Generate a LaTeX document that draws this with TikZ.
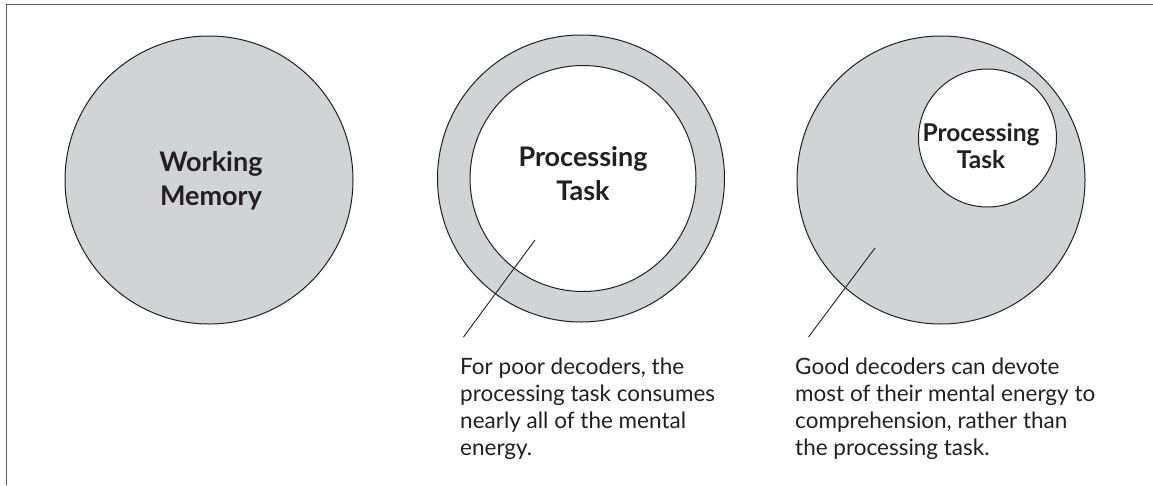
\documentclass[tikz,border=0pt]{standalone}
\usepackage{fontspec}
\setmainfont{Lato}
\definecolor{memgray}{HTML}{D1D3D4}
\definecolor{ink}{HTML}{231F20}
\definecolor{framegray}{HTML}{5A5B5D}
\begin{document}
\begin{tikzpicture}[x=1pt,y=-1pt,
  disc/.style={circle, draw=ink, line width=1pt, fill=memgray, inner sep=0pt},
  hole/.style={circle, draw=ink, line width=1pt, fill=white, inner sep=0pt},
  heading/.style={font=\fontsize{27}{34}\selectfont\bfseries, align=center, text=ink, inner sep=0pt},
  smallheading/.style={font=\fontsize{24.5}{27}\selectfont\bfseries, align=center, text=ink, inner sep=0pt},
  note/.style={font=\fontsize{22.5}{27}\selectfont, align=left, text=ink, anchor=north west, inner sep=0pt},
  leader/.style={draw=ink, line width=0.9pt},
  boxline/.style={draw=framegray, line width=1.5pt}]
\useasboundingbox (0,0) rectangle (1153,485);

% open frame: left and top edges only
\coordinate (fbl) at (6.5,485);
\coordinate (ftl) at (6.5,4.5);
\coordinate (ftr) at (1153,4.5);
\draw[boxline] (fbl) -- (ftl) -- (ftr);

% working memory on its own
\node[disc, minimum size=288pt] (wm) at (209,180) {};
\node[heading] (wmlabel) at (211,181) {Working\\Memory};

% poor decoders: task fills most of memory
\node[disc, minimum size=287pt] (poor) at (581,178.5) {};
\node[hole, minimum size=226pt] (poortask) at (583,178.5) {};
\node[heading] (poorlabel) at (583,174) {Processing\\Task};

% good decoders: task takes a small part
\node[disc, minimum size=288pt] (good) at (941,180) {};
\node[hole, minimum size=138pt] (goodtask) at (987.5,138) {};
\node[smallheading] (goodlabel) at (981,146) {Processing\\Task};

% captions and their leader lines
\node[note] (poornote) at (460,358) {For poor decoders, the\\processing task consumes\\nearly all of the mental\\energy.};
\node[note] (goodnote) at (795,358) {Good decoders can devote\\most of their mental energy to\\comprehension, rather than\\the processing task.};

\coordinate (poorin) at (535,240);
\coordinate (poorout) at (463.5,337);
\coordinate (goodin) at (875,248);
\coordinate (goodout) at (808.5,337);
\draw[leader] (poorin) -- (poorout);
\draw[leader] (goodin) -- (goodout);
\end{tikzpicture}
\end{document}
